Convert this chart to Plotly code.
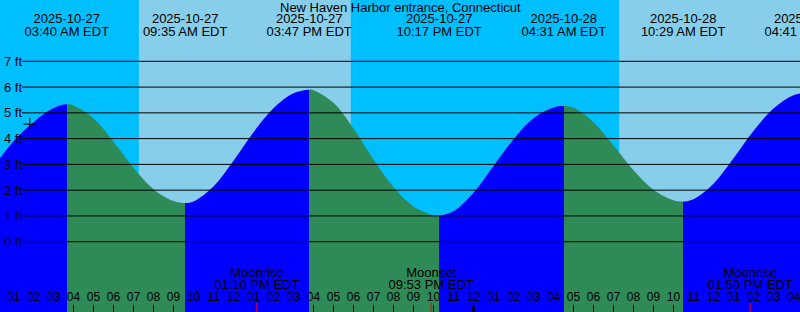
import plotly.graph_objects as go
from datetime import datetime, timedelta

TITLE = "New Haven Harbor entrance, Connecticut"

# ---- tide extremes (high / low) ----
event_times = ["2025-10-27 03:40", "2025-10-27 09:35", "2025-10-27 15:47",
               "2025-10-27 22:17", "2025-10-28 04:31", "2025-10-28 10:29",
               "2025-10-28 16:41"]
event_levels = [5.33, 1.50, 5.90, 1.01, 5.27, 1.56, 5.78]
event_dates = ["2025-10-27", "2025-10-27", "2025-10-27", "2025-10-27",
               "2025-10-28", "2025-10-28", "2025-10-28"]
event_clock = ["03:40 AM EDT", "09:35 AM EDT", "03:47 PM EDT", "10:17 PM EDT",
               "04:31 AM EDT", "10:29 AM EDT", "04:41 PM EDT"]

# ---- tide curve, hourly values (ft) ----
curve_times = [
    "2025-10-27 00:00", "2025-10-27 01:00", "2025-10-27 02:00", "2025-10-27 03:00",
    "2025-10-27 03:40", "2025-10-27 04:00", "2025-10-27 05:00", "2025-10-27 06:00",
    "2025-10-27 07:00", "2025-10-27 08:00", "2025-10-27 09:00", "2025-10-27 09:35",
    "2025-10-27 10:00", "2025-10-27 11:00", "2025-10-27 12:00", "2025-10-27 13:00",
    "2025-10-27 14:00", "2025-10-27 15:00", "2025-10-27 15:47", "2025-10-27 16:00",
    "2025-10-27 17:00", "2025-10-27 18:00", "2025-10-27 19:00", "2025-10-27 20:00",
    "2025-10-27 21:00", "2025-10-27 22:00", "2025-10-27 22:17", "2025-10-27 23:00",
    "2025-10-28 00:00", "2025-10-28 01:00", "2025-10-28 02:00", "2025-10-28 03:00",
    "2025-10-28 04:00", "2025-10-28 04:31", "2025-10-28 05:00", "2025-10-28 06:00",
    "2025-10-28 07:00", "2025-10-28 08:00", "2025-10-28 09:00", "2025-10-28 10:00",
    "2025-10-28 10:29", "2025-10-28 11:00", "2025-10-28 12:00", "2025-10-28 13:00",
    "2025-10-28 14:00", "2025-10-28 15:00", "2025-10-28 16:00", "2025-10-28 16:41",
]
curve_levels = [
    2.90, 3.90, 4.64, 5.19,
    5.33, 5.29, 4.79, 3.88,
    2.87, 2.04, 1.58, 1.50,
    1.56, 2.14, 3.14, 4.25,
    5.18, 5.76, 5.90, 5.88,
    5.39, 4.39, 3.19, 2.12,
    1.37, 1.03, 1.01, 1.18,
    1.90, 2.94, 3.98, 4.79,
    5.21, 5.27, 5.20, 4.64,
    3.73, 2.77, 2.02, 1.61,
    1.56, 1.65, 2.25, 3.24,
    4.30, 5.17, 5.68, 5.78,
]

# ---- sun ----
sunrise_times = ["2025-10-27 07:16", "2025-10-28 07:17"]
sunset_times = ["2025-10-27 17:52", "2025-10-28 17:50"]

# ---- moon ----
moon_times = ["2025-10-27 13:10", "2025-10-27 21:53", "2025-10-28 13:50"]
moon_names = ["Moonrise", "Moonset", "Moonrise"]
moon_clock = ["01:10 PM EDT", "09:53 PM EDT", "01:50 PM EDT"]

# ---- current time marker ----
now_time = "2025-10-27 01:49"
now_level = 4.56

# ---- grid levels ----
grid_levels = [0, 1, 2, 3, 4, 5, 6, 7]
grid_labels = ["0 ft", "1 ft", "2 ft", "3 ft", "4 ft", "5 ft", "6 ft", "7 ft"]

# ---- hour ticks (12-hour clock labels) ----
first_hour = datetime(2025, 10, 27, 0, 0)
n_hours = 42
hour_times = [first_hour + timedelta(hours=i) for i in range(n_hours)]
hour_labels = [t.strftime("%I") for t in hour_times]

view_start = "2025-10-27 00:19:30"
view_end = "2025-10-28 16:19:30"
midnight = "2025-10-28 00:00"

# ---- styling / geometry ----
W, H = 800, 312
ZERO_PX = 241.7      # pixel row of 0 ft
PX_PER_FT = 25.77
NIGHT = "#00BFFF"
DAY = "#87CEEB"
RISE = "#0000FF"
FALL = "#2E8B57"
FONT = "Liberation Sans, Arial, sans-serif"
EPOCH = datetime(1970, 1, 1)


def px_to_ft(py):
    return (ZERO_PX - py) / PX_PER_FT


def ms(t):
    return (datetime.strptime(t, "%Y-%m-%d %H:%M") - EPOCH).total_seconds() * 1000.0


y_lo = px_to_ft(H)
y_hi = px_to_ft(0)
base = y_lo - 1.0

# colour steps: rising = blue, falling = green, switching at each extreme
t0, t1 = ms(curve_times[0]), ms(curve_times[-1])
prev_level = curve_levels[0]
prev_frac = 0.0
colorscale = []
for et, lv in zip(event_times, event_levels):
    f = min(max((ms(et) - t0) / (t1 - t0), 0.0), 1.0)
    col = RISE if lv > prev_level else FALL
    colorscale.append([prev_frac, col])
    colorscale.append([f, col])
    prev_frac, prev_level = f, lv
if prev_frac < 1.0:
    col = RISE if curve_levels[-1] > prev_level else FALL
    colorscale.append([prev_frac, col])
    colorscale.append([1.0, col])

fig = go.Figure()
fig.add_trace(go.Scatter(x=[curve_times[0], curve_times[-1]], y=[base, base],
                         mode="lines", line=dict(width=0, color=RISE),
                         hoverinfo="skip", showlegend=False))
fig.add_trace(go.Scatter(x=curve_times, y=curve_levels, mode="lines", fill="tonexty",
                         fillgradient=dict(type="horizontal", colorscale=colorscale,
                                           start=t0, stop=t1),
                         line=dict(width=0, color=RISE, shape="spline", smoothing=1),
                         hoverinfo="skip", showlegend=False))

# current time marker
fig.add_trace(go.Scatter(x=[now_time], y=[now_level], mode="markers",
                         marker=dict(symbol="cross-thin", size=9,
                                     line=dict(color="black", width=1)),
                         hoverinfo="skip", showlegend=False))

# event labels (top)
fig.add_trace(go.Scatter(x=event_times, y=[px_to_ft(20)] * len(event_times),
                         mode="text", text=event_dates, textposition="middle center",
                         textfont=dict(family=FONT, size=13, color="black"),
                         hoverinfo="skip", showlegend=False))
fig.add_trace(go.Scatter(x=event_times, y=[px_to_ft(32.5)] * len(event_times),
                         mode="text", text=event_clock, textposition="middle center",
                         textfont=dict(family=FONT, size=13, color="black"),
                         hoverinfo="skip", showlegend=False))

# moon labels (bottom)
fig.add_trace(go.Scatter(x=moon_times, y=[px_to_ft(274)] * len(moon_times),
                         mode="text", text=moon_names, textposition="middle center",
                         textfont=dict(family=FONT, size=13, color="black"),
                         hoverinfo="skip", showlegend=False))
fig.add_trace(go.Scatter(x=moon_times, y=[px_to_ft(286)] * len(moon_times),
                         mode="text", text=moon_clock, textposition="middle center",
                         textfont=dict(family=FONT, size=13, color="black"),
                         hoverinfo="skip", showlegend=False))

# hour labels along the bottom
fig.add_trace(go.Scatter(x=hour_times, y=[px_to_ft(297.5)] * len(hour_times),
                         mode="text", text=hour_labels, textposition="middle center",
                         textfont=dict(family=FONT, size=12, color="black"),
                         hoverinfo="skip", showlegend=False))

shapes = []
# daylight bands
for sr, ss in zip(sunrise_times, sunset_times):
    shapes.append(dict(type="rect", xref="x", yref="paper", x0=sr, x1=ss, y0=0, y1=1,
                       fillcolor=DAY, line=dict(width=0), layer="below"))
# grid lines
for lv in grid_levels:
    shapes.append(dict(type="line", xref="paper", yref="y", x0=22 / W, x1=1,
                       y0=lv, y1=lv, line=dict(color="black", width=1), layer="above"))
# moon event ticks
for mt in moon_times:
    shapes.append(dict(type="line", xref="x", yref="paper", x0=mt, x1=mt,
                       y0=0, y1=9 / H, line=dict(color="red", width=1), layer="above"))
# midnight tick
shapes.append(dict(type="line", xref="x", yref="paper", x0=midnight, x1=midnight,
                   y0=0, y1=7 / H, line=dict(color="black", width=2.5), layer="above"))

annotations = []
for lv, lab in zip(grid_levels, grid_labels):
    annotations.append(dict(xref="paper", yref="y", x=0, y=lv, xanchor="left",
                            yanchor="middle", xshift=2, text=lab, showarrow=False,
                            font=dict(family=FONT, size=13, color="black")))
annotations.append(dict(xref="paper", yref="paper", x=0.5, y=1 - 7 / H,
                        xanchor="center", yanchor="middle", text=TITLE, showarrow=False,
                        font=dict(family=FONT, size=13, color="black")))

fig.update_layout(
    width=W, height=H, margin=dict(l=0, r=0, t=0, b=0),
    paper_bgcolor=NIGHT, plot_bgcolor=NIGHT,
    shapes=shapes, annotations=annotations, showlegend=False,
    xaxis=dict(type="date", range=[view_start, view_end], showgrid=False,
               zeroline=False, showline=False, ticks="inside", ticklen=7,
               tickwidth=1, tickcolor="black", tick0="2025-10-27 00:00",
               dtick=3600000, showticklabels=False, fixedrange=True),
    yaxis=dict(range=[y_lo, y_hi], visible=False, fixedrange=True),
)

fig.write_html("out.html")
